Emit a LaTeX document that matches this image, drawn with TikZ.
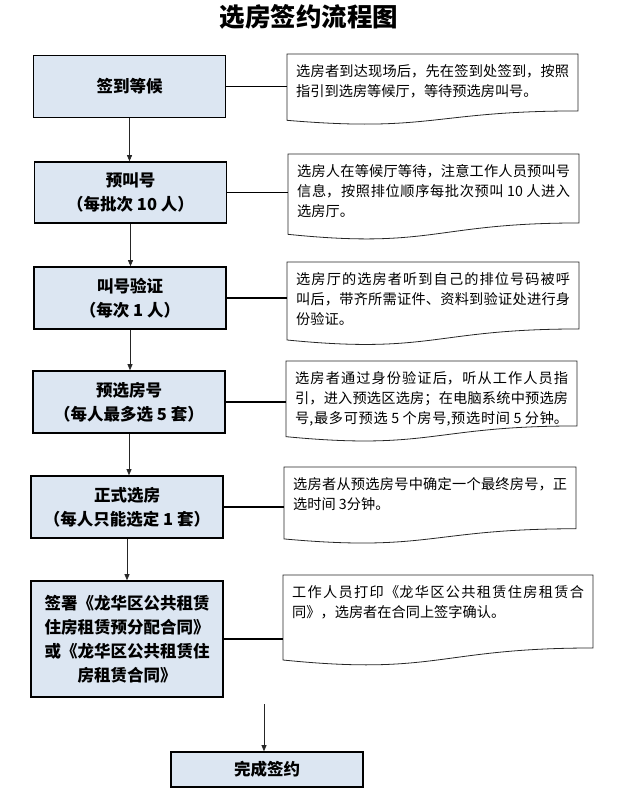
\documentclass[tikz,border=0pt]{standalone}
\usepackage{fontspec}
\setmainfont{Noto Sans CJK SC}
\usetikzlibrary{positioning, arrows.meta, calc}
\XeTeXlinebreaklocale "zh"
\XeTeXlinebreakskip=0pt plus 4pt
\definecolor{stepfill}{RGB}{220,230,242}
\tikzset{
  stepbox/.style={draw=black, line width=1.6pt, fill=stepfill, minimum width=192pt, minimum height=62pt,
    align=center, inner sep=0pt, font=\fontsize{16.5}{24}\selectfont\bfseries},
  notetext/.style={anchor=north west, inner xsep=9pt, inner ysep=10pt, font=\fontsize{14.2}{20}\selectfont},
  noteline/.style={draw=black!85, line width=0.8pt, fill=white},
  link/.style={line width=1.6pt},
  flow/.style={line width=0.7pt, black!85, -{Triangle[width=5pt,length=6pt]}},
}
\newcommand{\fullln}[1]{{\parfillskip=0pt\noindent#1\par}}                % full line, spread
\newcommand{\lastln}[1]{{\parfillskip=0pt plus 1fil\noindent#1\par}}      % last line
% name, x, y, width, height, lines
\newcommand{\notebox}[6]{%
  \draw[noteline] (#2,#3) -- ({#2+#4},#3) -- ({#2+#4},{#3+0.802*#5})
    .. controls ({#2+0.5*#4},{#3+0.802*#5}) and ({#2+0.5*#4},{#3+1.1075*#5}) .. (#2,{#3+0.934*#5}) -- cycle;
  \node[notetext] (#1) at (#2,#3)
    {\vbox{\hsize=\dimexpr#4pt-18pt\relax\parindent=0pt\rightskip=0pt\leftskip=0pt #6}};
}

\begin{document}
\begin{tikzpicture}[x=1pt, y=-1pt]
  \useasboundingbox (0,0) rectangle (617,795);
  \node[font=\fontsize{25.5}{25}\selectfont\bfseries] (title) at (309,17) {选房签约流程图};

  % steps
  \node[stepbox] (arrive) at (129.5,86.5) {签到等候};
  \node[stepbox, minimum height=61pt] (precall) at (130.5,192.5) {预叫号\\（每批次 10 人）};
  \node[stepbox] (verify) at (130,298) {叫号验证\\（每次 1 人）};
  \node[stepbox] (presel) at (129,402) {预选房号\\（每人最多选 5 套）};
  \node[stepbox] (select) at (127,507) {正式选房\\（每人只能选定 1 套）};
  \node[stepbox, minimum height=116pt] (contract) at (127,639)
    {签署《龙华区公共租赁\\住房租赁预分配合同》\\或《龙华区公共租赁住\\房租赁合同》};
  \node[stepbox, minimum height=35pt] (done) at (267,769.5) {完成签约};

  % notes
  \notebox{n1}{287}{54}{291}{71}{%
    \fullln{选房者到达现场后，先在签到处签到，按照}
    \lastln{指引到选房等候厅，等待预选房叫号。}}
  \notebox{n2}{288}{154}{291}{86}{%
    \fullln{选房人在等候厅等待，注意工作人员预叫号}
    \fullln{信息，按照排位顺序每批次预叫 10 人进入}
    \lastln{选房厅。}}
  \notebox{n3}{287}{262}{292}{83.5}{%
    \fullln{选房厅的选房者听到自己的排位号码被呼}
    \fullln{叫后，带齐所需证件、资料到验证处进行身}
    \lastln{份验证。}}
  \notebox{n4}{286}{361}{291}{81}{%
    \fullln{选房者通过身份验证后，听从工作人员指}
    \fullln{引，进入预选区选房；在电脑系统中预选房}
    \fullln{号,最多可预选 5 个房号,预选时间 5 分钟。}}
  \notebox{n5}{284}{467}{292}{77}{%
    \fullln{选房者从预选房号中确定一个最终房号，正}
    \lastln{选时间 3分钟。}}
  \notebox{n6}{283}{575}{310}{91}{%
    \fullln{工作人员打印《龙华区公共租赁住房租赁合}
    \lastln{同》，选房者在合同上签字确认。}}

  % connectors
  \foreach \a/\b in {arrive/precall, precall/verify, verify/presel, presel/select, select/contract}
    \draw[flow] (\a.south) -- (\a.south |- \b.north);
  \foreach \a/\b in {arrive/n1, precall/n2, verify/n3, presel/n4, select/n5, contract/n6}
    \draw[link] (\a.east) -- (\a.east -| \b.west);
  \coordinate (gap) at (264,704);
  \draw[flow] (gap) -- (gap |- done.north);
\end{tikzpicture}
\end{document}
